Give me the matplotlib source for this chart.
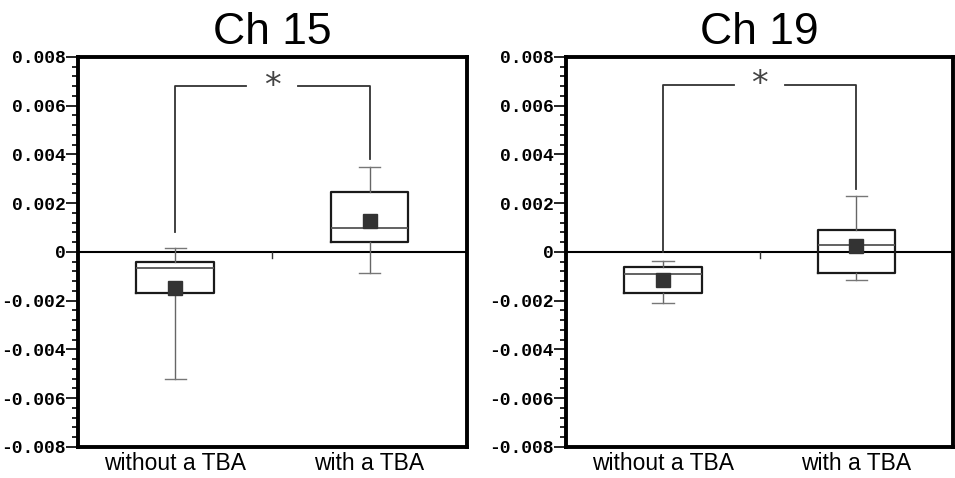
import matplotlib.pyplot as plt
from matplotlib.ticker import MultipleLocator, FuncFormatter

# values (per channel: without a TBA, with a TBA)
groups = ["without a TBA", "with a TBA"]
channels = ["Ch 15", "Ch 19"]

whislo = {"Ch 15": [-0.0052, -0.00085], "Ch 19": [-0.0021, -0.00115]}
q1 = {"Ch 15": [-0.0017, 0.0004], "Ch 19": [-0.00167, -0.00087]}
med = {"Ch 15": [-0.00065, 0.00097], "Ch 19": [-0.0009, 0.0003]}
q3 = {"Ch 15": [-0.0004, 0.00245], "Ch 19": [-0.0006, 0.00088]}
whishi = {"Ch 15": [0.00015, 0.0035], "Ch 19": [-0.00037, 0.0023]}
means = {"Ch 15": [-0.0015, 0.00125], "Ch 19": [-0.00115, 0.00025]}

# significance bracket: top height, left foot, right foot
bracket = {"Ch 15": (0.0068, 0.0008, 0.0038), "Ch 19": (0.00685, 0.0, 0.0026)}

positions = [1, 3]

fig = plt.figure(figsize=(9.55, 4.78), dpi=100)
axes_rects = [[0.0817, 0.065, 0.407, 0.816], [0.593, 0.065, 0.405, 0.816]]


def fmt_tick(v, _):
    if abs(v) < 1e-12:
        return "0"
    return f"{v:.3f}"


for rect, ch in zip(axes_rects, channels):
    ax = fig.add_axes(rect)
    stats = []
    for i in range(2):
        stats.append(dict(whislo=whislo[ch][i], q1=q1[ch][i], med=med[ch][i],
                          q3=q3[ch][i], whishi=whishi[ch][i], mean=means[ch][i],
                          fliers=[]))
    ax.bxp(stats, positions=positions, widths=0.8, capwidths=0.22, showmeans=True,
           boxprops=dict(color="#1a1a1a", lw=1.6),
           medianprops=dict(color="#555555", lw=1.3),
           whiskerprops=dict(color="#666666", lw=1.0),
           capprops=dict(color="#777777", lw=1.0),
           meanprops=dict(marker="s", markersize=10, markerfacecolor="#333333",
                          markeredgecolor="#333333"))

    ax.axhline(0, color="black", lw=1.5, zorder=1)
    ax.plot([2, 2], [0, -0.00025], color="#333333", lw=1.0)

    top, left_foot, right_foot = bracket[ch]
    ax.plot([1, 1, 1.73], [left_foot, top, top], color="#333333", lw=1.3)
    ax.plot([2.26, 3, 3], [top, top, right_foot], color="#333333", lw=1.3)
    ax.text(2, top, "*", ha="center", va="center", fontsize=24, color="#444444",
            family="DejaVu Sans")

    ax.set_xlim(0, 4)
    ax.set_ylim(-0.008, 0.008)
    ax.yaxis.set_major_locator(MultipleLocator(0.002))
    ax.yaxis.set_minor_locator(MultipleLocator(0.0004))
    ax.yaxis.set_major_formatter(FuncFormatter(fmt_tick))
    ax.tick_params(axis="y", which="major", length=9, width=1.2, pad=0)
    ax.tick_params(axis="y", which="minor", length=4, width=1.2)
    ax.set_xticks(positions)
    ax.set_xticklabels(groups, fontsize=16.5, family="Liberation Sans")
    ax.tick_params(axis="x", length=0, pad=4)
    for lab in ax.get_yticklabels():
        lab.set_family("Liberation Mono")
        lab.set_fontweight("bold")
        lab.set_fontsize(13)
    for sp in ax.spines.values():
        sp.set_linewidth(2.8)
    ax.set_title(ch, fontsize=32, family="Liberation Sans", pad=9)

fig.savefig("out.png", dpi=100)
